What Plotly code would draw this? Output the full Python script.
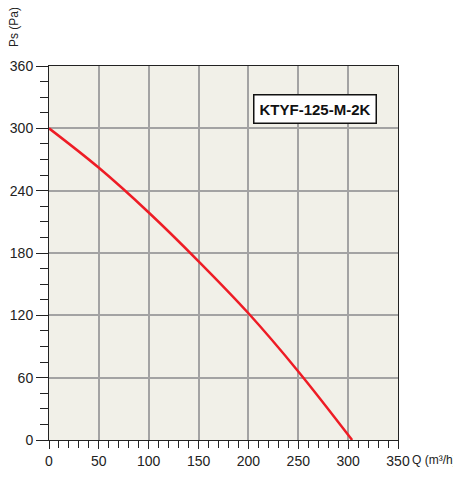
import plotly.graph_objects as go

q_values = [0, 50, 100, 150, 200, 250, 304]
ps_values = [300, 262, 219, 172, 122, 66, 0]
model_name = "KTYF-125-M-2K"

FONT = "Liberation Sans, Arial, sans-serif"

fig = go.Figure()
fig.add_trace(go.Scatter(
    x=q_values, y=ps_values, mode="lines",
    line={"color": "#EE1C25", "width": 2.5, "shape": "spline", "smoothing": 1},
    hoverinfo="skip",
))

# the page body adds an 8px offset, so margins are shifted to compensate
fig.update_layout(
    width=461, height=481,
    paper_bgcolor="white",
    plot_bgcolor="#F1F0E8",
    margin={"l": 41, "r": 71, "t": 58, "b": 49},
    font={"family": FONT, "size": 14, "color": "#222222"},
    showlegend=False,
    xaxis={
        "range": [0, 350], "dtick": 50, "tick0": 0,
        "showgrid": True, "gridcolor": "#A3A3A3", "gridwidth": 1.5,
        "ticks": "outside", "ticklen": 8, "tickcolor": "#222222", "tickwidth": 1,
        "minor": {"dtick": 10, "ticks": "outside", "ticklen": 7, "tickcolor": "#222222", "showgrid": False},
        "showline": True, "linecolor": "#222222", "linewidth": 1, "mirror": True,
        "zeroline": False, "fixedrange": True, "automargin": False,
    },
    yaxis={
        "range": [0, 360], "dtick": 60, "tick0": 0,
        "showgrid": True, "gridcolor": "#A3A3A3", "gridwidth": 1.5,
        "ticks": "outside", "ticklen": 12, "tickcolor": "#222222", "tickwidth": 1,
        "minor": {"dtick": 15, "ticks": "outside", "ticklen": 8, "tickcolor": "#222222", "showgrid": False},
        "showline": True, "linecolor": "#222222", "linewidth": 1, "mirror": True,
        "zeroline": False, "fixedrange": True, "ticklabelstandoff": 0, "automargin": False,
    },
    annotations=[
        {"text": "Q (m³/h)", "xref": "paper", "yref": "paper", "x": 1.0, "y": 0,
         "xanchor": "left", "yanchor": "top", "xshift": 12, "yshift": -11,
         "showarrow": False, "font": {"size": 12}},
        {"text": "Ps (Pa)", "xref": "paper", "yref": "paper", "x": 0, "y": 1,
         "xanchor": "center", "yanchor": "bottom", "xshift": -35, "yshift": 17,
         "textangle": -90, "showarrow": False, "font": {"size": 12}},
        {"text": "<b>" + model_name + "</b>", "xref": "paper", "yref": "paper",
         "x": 0.94, "y": 0.886, "xanchor": "right", "yanchor": "middle",
         "showarrow": False, "font": {"size": 15, "color": "#111111"},
         "bgcolor": "white", "bordercolor": "#111111", "borderwidth": 1.5, "borderpad": 5},
    ],
)

fig.write_html("out.html")
